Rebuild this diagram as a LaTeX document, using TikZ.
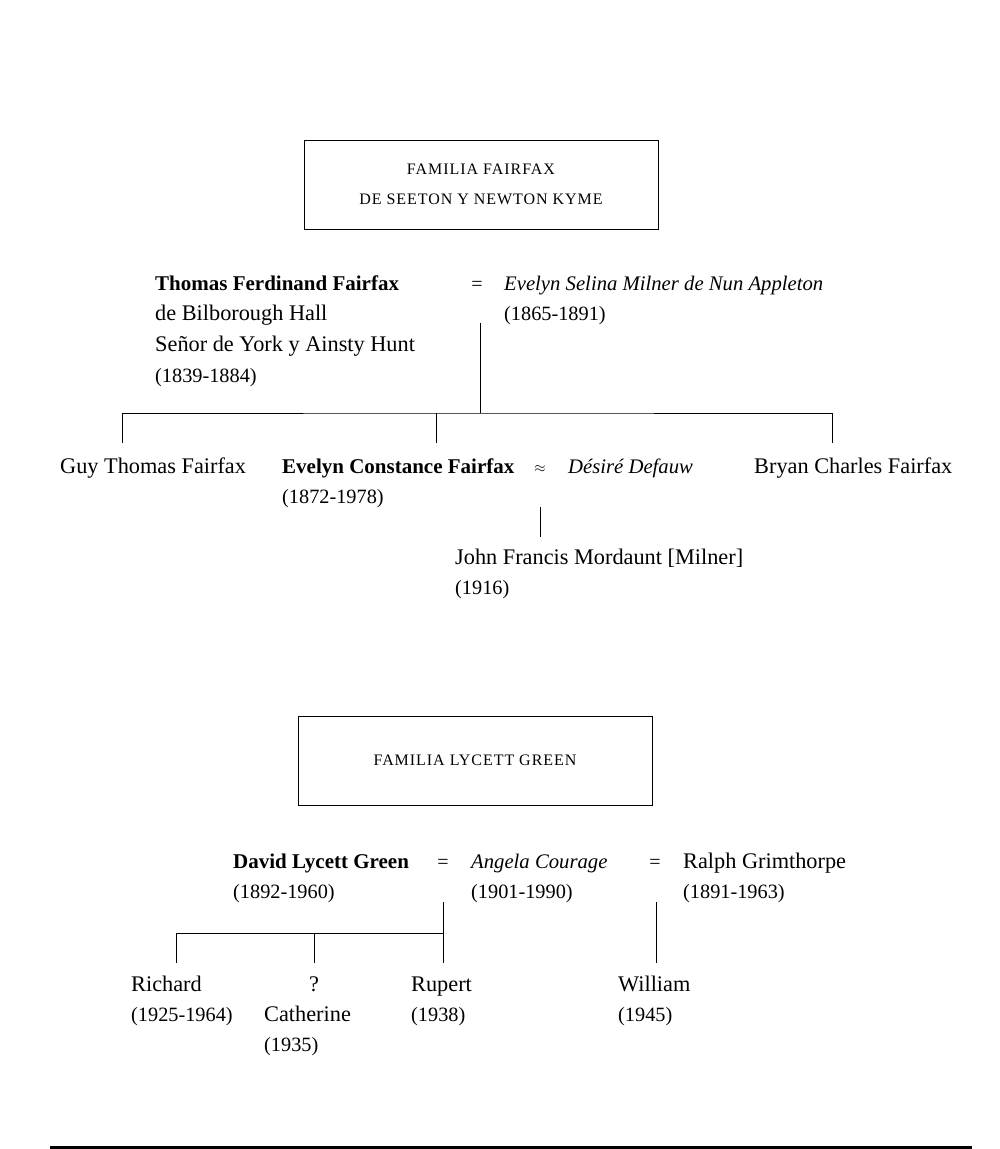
\documentclass[tikz,border=0pt]{standalone}
\usepackage{fontspec}
\setmainfont{Liberation Serif}
\newfontfamily\capsfont[LetterSpace=6]{Liberation Serif}
\usetikzlibrary{positioning}
\newcommand\headname[1]{{\fontsize{21}{30.6}\selectfont\bfseries #1}}
\newcommand\inlaw[1]{{\fontsize{20.7}{30.6}\selectfont\itshape #1}}
\newcommand\lifespan[1]{{\fontsize{20.3}{30.6}\selectfont(#1)}}
\tikzset{
  famtitle/.style={
    draw,
    line width=1pt,
    minimum width=354pt,
    minimum height=89pt,
    align=center,
    font=\capsfont\fontsize{16}{30}\selectfont
  },
  person/.style={
    anchor=base west,
    inner sep=0pt,
    align=left,
    font=\fontsize{22.3}{30.6}\selectfont
  },
  marr/.style={
    anchor=base,
    inner sep=0pt,
    font=\fontsize{20}{30.6}\selectfont
  },
  kin/.style={
    line width=1pt
  }
}
\begin{document}
\begin{tikzpicture}[x=1pt,y=-1pt]
\useasboundingbox (0,0) rectangle (1000,1149);
% Fairfax (person nodes sit on the baseline of their last line)
\node[famtitle] (fairfax) at (481,184.5) {FAMILIA FAIRFAX\\DE SEETON Y NEWTON KYME};
\node[person] (thomas) at (155,382) {\headname{Thomas Ferdinand Fairfax}\\de Bilborough Hall\\Señor de York y Ainsty Hunt\\\lifespan{1839-1884}};
\node[marr] (eq1) at (477,290) {=};
\node[person] (selina) at (504,320.6) {\inlaw{Evelyn Selina Milner de Nun Appleton}\\\lifespan{1865-1891}};
\coordinate (m1) at (480,323);
\coordinate (bar1) at (480,413);
\coordinate (guy-t) at (122,443);
\coordinate (evc-t) at (436,443);
\coordinate (bryan-t) at (832,443);
\draw[kin] (m1) -- (bar1);
\draw[kin] (guy-t) |- (bar1) -| (bryan-t);
\draw[kin] (evc-t) -- (evc-t |- bar1);
\node[person] (guy) at (60,473) {Guy Thomas Fairfax};
\node[person] (evelyn) at (282,503.6) {\headname{Evelyn Constance Fairfax}\\\lifespan{1872-1978}};
\node[marr, font=\fontsize{14}{14}\selectfont] (approx) at (540,472) {$\approx$};
\node[person] (defauw) at (568,473) {\inlaw{Désiré Defauw}};
\node[person] (bryan) at (754,473) {Bryan Charles Fairfax};
\coordinate (m2) at (540,507);
\coordinate (john-t) at (540,537);
\draw[kin] (m2) -- (john-t);
\node[person] (john) at (455,594.6) {John Francis Mordaunt [Milner]\\\lifespan{1916}};
% Lycett Green
\node[famtitle] (lycett) at (475,760.5) {FAMILIA LYCETT GREEN};
\node[person] (david) at (233,898.6) {\headname{David Lycett Green}\\\lifespan{1892-1960}};
\node[marr] (eq2) at (443,868) {=};
\node[person] (angela) at (471,898.6) {\inlaw{Angela Courage}\\\lifespan{1901-1990}};
\node[marr] (eq3) at (655,868) {=};
\node[person] (ralph) at (683,898.6) {Ralph Grimthorpe\\\lifespan{1891-1963}};
\coordinate (m3) at (443,902);
\coordinate (bar3) at (443,933);
\coordinate (rupert-t) at (443,963);
\coordinate (richard-t) at (176,963);
\coordinate (cath-t) at (314,963);
\coordinate (m4) at (656,902);
\coordinate (william-t) at (656,963);
\draw[kin] (m3) -- (rupert-t);
\draw[kin] (richard-t) |- (bar3);
\draw[kin] (cath-t) -- (cath-t |- bar3);
\draw[kin] (m4) -- (william-t);
\node[person] (richard) at (131,1021.6) {Richard\\\lifespan{1925-1964}};
\node[marr, font=\fontsize{22.3}{30.6}\selectfont] (cath-q) at (314,991) {?};
\node[person] (catherine) at (264,1051.6) {Catherine\\\lifespan{1935}};
\node[person] (rupert) at (411,1021.6) {Rupert\\\lifespan{1938}};
\node[person] (william) at (618,1021.6) {William\\\lifespan{1945}};
\draw[line width=3pt] (50,1147.5) -- (972,1147.5);
\end{tikzpicture}
\end{document}
